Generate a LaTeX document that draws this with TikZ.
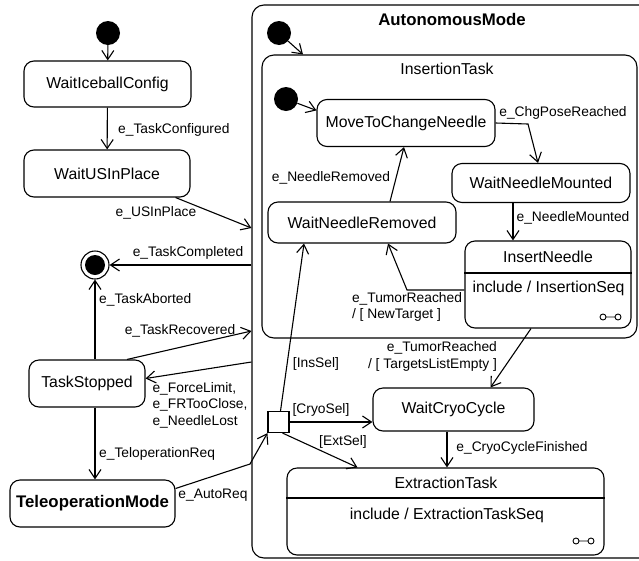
\documentclass[tikz,border=0pt]{standalone}
\usepackage{fontspec}
\setmainfont{Liberation Sans}
\usetikzlibrary{arrows.meta}

\begin{document}
\begin{tikzpicture}[
    x=1pt, y=-1pt,
    % Styles
    state/.style={% For the simple states
        rectangle,
        rounded corners=10pt,
        draw,
        line width=1.1pt,
        inner sep=2pt,
        font=\fontsize{15.8}{18}\selectfont,
        },
    composite/.style={% For the states holding other states
        rectangle,
        rounded corners=12pt,
        draw,
        line width=1.1pt,
        },
    initial/.style={% Start points
        circle,
        fill=black,
        minimum size=24pt,
        inner sep=0pt,
        },
    final/.style={% End point
        circle,
        draw,
        line width=1.1pt,
        minimum size=28pt,
        inner sep=0pt,
        path picture={\fill (path picture bounding box.center) circle (10pt);},
        },
    choice/.style={% Junction box
        rectangle,
        draw,
        line width=1.1pt,
        minimum size=21pt,
        inner sep=0pt,
        },
    title/.style={% Names of the states
        font=\fontsize{15.8}{18}\selectfont,
        inner sep=1pt,
        },
    lbl/.style={% Labels of the transitions
        font=\fontsize{13.8}{16.5}\selectfont,
        inner sep=1pt,
        },
    trans/.style={% Transitions
        line width=1.1pt,
        -{Straight Barb[length=9pt,width=12pt]},
        },
    ]
    \useasboundingbox (0,0) rectangle (639,560);

    % Outer composite state
    \node [composite, minimum width=408pt, minimum height=553pt] (auto) at (456,281.5) {};
    \node [title, font=\fontsize{16.8}{19}\selectfont\bfseries] (autoTitle) at (452,19) {AutonomousMode};
    \node [initial] (init2) at (279,33) {};

    % Insertion task
    \node [composite, minimum width=375pt, minimum height=283pt] (ins) at (449.5,196.5) {};
    \node [title] (insTitle) at (447,69) {InsertionTask};
    \node [initial] (init3) at (286,99) {};
    \node [state, minimum width=178pt, minimum height=47pt] (mtc) at (406,123) {MoveToChangeNeedle};
    \node [state, minimum width=178pt, minimum height=39pt] (wnm) at (541,183) {WaitNeedleMounted};
    \node [state, minimum width=188pt, minimum height=41pt] (wnr) at (362,222.5) {WaitNeedleRemoved};
    \node [state, minimum width=166pt, minimum height=87pt] (in) at (548,284.5) {};
    \node [title] (inTitle) at (548,257) {InsertNeedle};
    \node [title] (inBody) at (548.5,288) {include / InsertionSeq};
    \draw [line width=1.1pt] (in.west |- 0,273) -- (in.east |- 0,273);
    % submachine mark
    \draw [line width=0.9pt] (603,317) circle (3pt) (606,317) -- (615,317) (618,317) circle (3pt);

    % Lower part
    \node [choice] (choice) at (278.5,422) {};
    \node [state, minimum width=161pt, minimum height=43pt] (wcc) at (453.5,409.5) {WaitCryoCycle};
    \node [state, minimum width=317pt, minimum height=87pt] (et) at (445.5,511.5) {};
    \node [title] (etTitle) at (446,483) {ExtractionTask};
    \node [title] (etBody) at (447,515) {include / ExtractionTaskSeq};
    \draw [line width=1.1pt] (et.west |- 0,498) -- (et.east |- 0,498);
    \draw [line width=0.9pt] (576,541) circle (3pt) (579,541) -- (588,541) (591,541) circle (3pt);

    % Left column
    \node [initial] (init1) at (108,33) {};
    \node [state, minimum width=167pt, minimum height=46pt] (wic) at (107.5,84) {WaitIceballConfig};
    \node [state, minimum width=166pt, minimum height=47pt] (wus) at (107,173.5) {WaitUSInPlace};
    \node [final] (final) at (95,265) {};
    \node [state, minimum width=116pt, minimum height=47pt] (ts) at (87,383.5) {TaskStopped};
    \node [state, minimum width=165pt, minimum height=47pt, font=\fontsize{16.8}{19}\selectfont\bfseries] (tm) at (92.5,503.5) {TeleoperationMode};

    % Bends
    \coordinate (autoBend) at (250,464);
    \coordinate (chgBend) at (528,124);
    \coordinate (newBend) at (407,290);

    % Labels
    \node [lbl, anchor=west] (lTaskConfigured) at (117,130) {e\_TaskConfigured};
    \node [lbl] (lUSInPlace) at (156,213) {e\_USInPlace};
    \node [lbl] (lTaskCompleted) at (188,253) {e\_TaskCompleted};
    \node [lbl, anchor=west] (lTaskAborted) at (98,300) {e\_TaskAborted};
    \node [lbl] (lTaskRecovered) at (180,331) {e\_TaskRecovered};
    \node [lbl, align=left] (lForceLimit) at (200,405) {e\_ForceLimit,\\e\_FRTooClose,\\e\_NeedleLost};
    \node [lbl, anchor=west] (lTeleopReq) at (98,454) {e\_TeloperationReq};
    \node [lbl] (lAutoReq) at (213,495) {e\_AutoReq};
    \node [lbl] (lChgPose) at (563,113) {e\_ChgPoseReached};
    \node [lbl] (lNeedleMounted) at (573,218) {e\_NeedleMounted};
    \node [lbl] (lNeedleRemoved) at (331,178) {e\_NeedleRemoved};
    \node [lbl, align=left] (lNewTarget) at (407,307) {e\_TumorReached\\/ [ NewTarget ]};
    \node [lbl, align=right] (lListEmpty) at (432.5,356.5) {e\_TumorReached\\/ [ TargetsListEmpty ]};
    \node [lbl] (lInsSel) at (316,364) {[InsSel]};
    \node [lbl] (lCryoSel) at (321,410) {[CryoSel]};
    \node [lbl] (lExtSel) at (343,442) {[ExtSel]};
    \node [lbl] (lCryoFinished) at (522,448) {e\_CryoCycleFinished};

    % Transitions
    % outside
    \draw [trans] (init1) -- (wic);
    \draw [trans] (wic) -- (wus);
    \draw [trans] ([xshift=-15pt]wus.south east) -- (auto.west |- 0,228);
    \draw [trans] (auto.west |- 0,265) -- (final);
    \draw [trans] (ts.north -| final) -- (final);
    \draw [trans] ([xshift=40pt]ts.north) -- (auto.west |- 0,331);
    \draw [trans] (auto.west |- 0,362) -- ([yshift=5pt]ts.east);
    \draw [trans] (ts.south -| final) -- (tm.north -| final);
    \draw [trans] ([yshift=15pt]tm.east) -- (autoBend) -- (choice.south west);

    % inside
    \draw [trans] (init2) -- (ins.north -| 303,0);
    \draw [trans] (init3) -- (mtc.172);
    \draw [trans] (mtc.east) -- (chgBend) -- ([xshift=-3pt]wnm.north);
    \draw [trans] (wnm.south -| 513,0) -- (in.north -| 513,0);
    \draw [trans] ([xshift=28pt]wnr.north) -- ([xshift=-2pt]mtc.south);
    \draw [trans] (in.west |- newBend) -- (newBend) -- ([xshift=26pt]wnr.south);
    \draw [trans] ([xshift=-17pt]in.south) -- ([xshift=37pt]wcc.north);
    \draw [trans] ([xshift=2pt]choice.north) -- ([xshift=-58pt]wnr.south);
    \draw [trans] (choice.east) -- (wcc.west |- choice.east);
    \draw [trans] ([xshift=4pt]choice.south) -- ([xshift=-88pt]et.north);
    \draw [trans] (wcc.south -| 447,0) -- (et.north -| 447,0);

\end{tikzpicture}
\end{document}
